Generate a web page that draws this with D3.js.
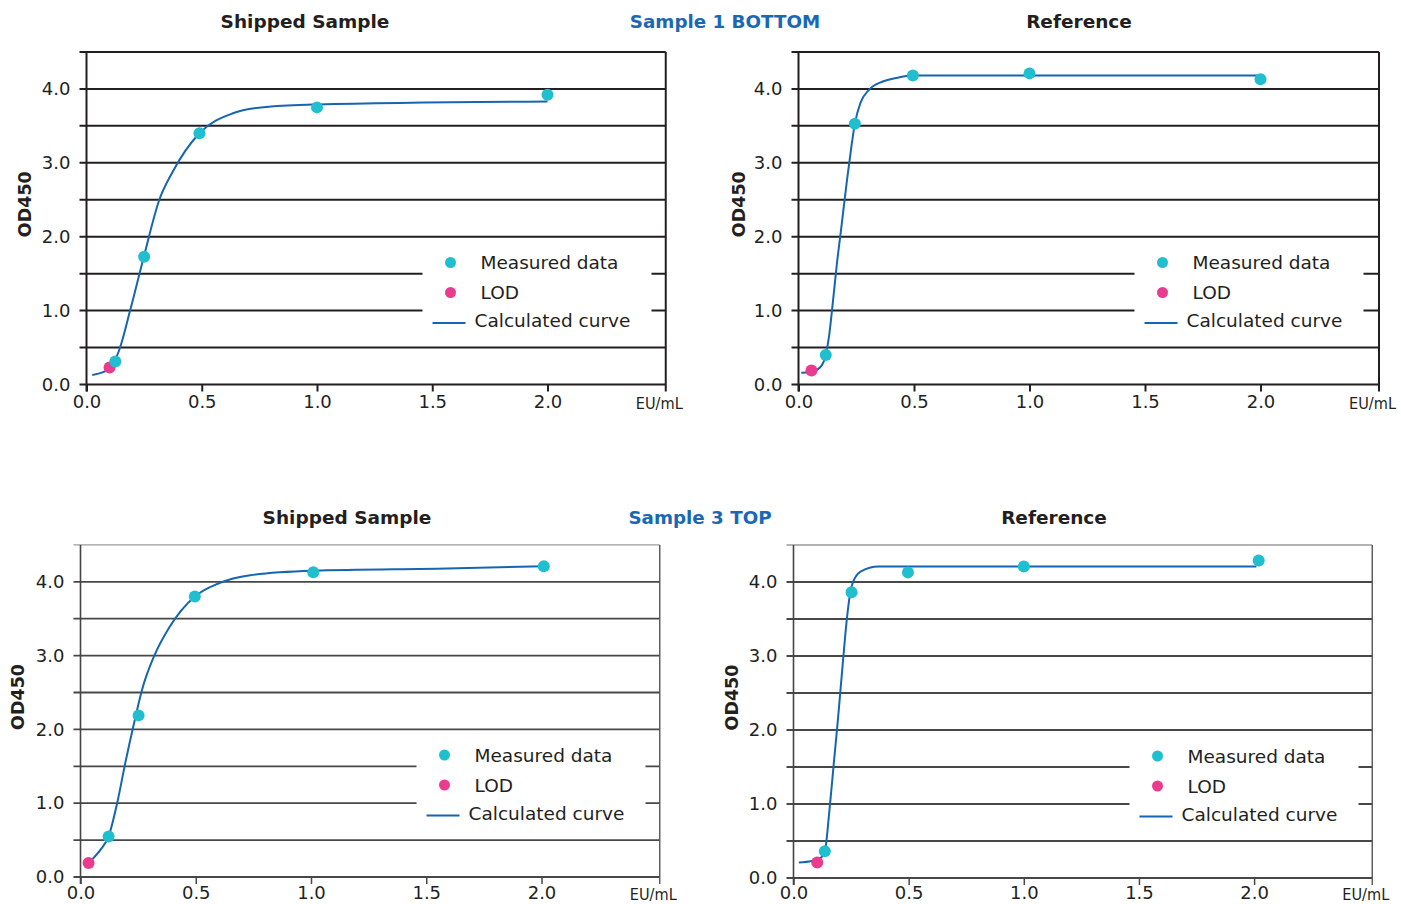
<!DOCTYPE html>
<html>
<head>
<meta charset="utf-8">
<script src="https://cdn.jsdelivr.net/npm/d3@7"></script>
<style>
  html, body { margin: 0; padding: 0; background: #fff; }
  svg { display: block; font-family: "DejaVu Sans", Verdana, sans-serif; }
</style>
</head>
<body>
<svg id="chart" width="1401" height="904"></svg>
<script>
// ---- axis ticks ----
const xTickValues = [0, 0.5, 1.0, 1.5, 2.0];
const xTickLabels = ["0.0", "0.5", "1.0", "1.5", "2.0"];
const xUnitLabel = "EU/mL";
const yTickValues = [0, 1, 2, 3, 4];
const yTickLabels = ["0.0", "1.0", "2.0", "3.0", "4.0"];
const yGridValues = [0, 0.5, 1.0, 1.5, 2.0, 2.5, 3.0, 3.5, 4.0, 4.5];
const yAxisTitle = "OD450";

// ---- row headings ----
const rowHeadings = ["Sample 1 BOTTOM", "Sample 3 TOP"];
const panelTitles = ["Shipped Sample", "Reference"];

// ---- legend ----
const legendLabels = ["Measured data", "LOD", "Calculated curve"];

// ---- Sample 1 BOTTOM, shipped ----
const s1ShippedMeasured = [[0.125, 0.31], [0.25, 1.73], [0.49, 3.40], [1.0, 3.75], [2.0, 3.92]];
const s1ShippedLOD = [[0.10, 0.23]];
const s1ShippedCurve = [[0.025, 0.13], [0.10, 0.21], [0.14, 0.45], [0.19, 1.01], [0.248, 1.72],
  [0.316, 2.50], [0.374, 2.88], [0.49, 3.40], [0.635, 3.67], [0.79, 3.76], [1.0, 3.79], [2.0, 3.83]];

// ---- Sample 1 BOTTOM, reference ----
const s1RefMeasured = [[0.118, 0.40], [0.244, 3.53], [0.495, 4.18], [1.0, 4.21], [2.0, 4.13]];
const s1RefLOD = [[0.056, 0.19]];
const s1RefCurve = [[0.012, 0.16], [0.054, 0.17], [0.093, 0.23], [0.118, 0.40], [0.132, 0.65],
  [0.147, 1.06], [0.165, 1.60], [0.186, 2.14], [0.21, 2.77], [0.229, 3.22], [0.244, 3.53],
  [0.268, 3.81], [0.306, 3.99], [0.365, 4.10], [0.442, 4.16], [0.5, 4.18], [2.0, 4.18]];

// ---- Sample 3 TOP, shipped ----
const s3ShippedMeasured = [[0.122, 0.55], [0.252, 2.19], [0.496, 3.80], [1.01, 4.13], [2.01, 4.21]];
const s3ShippedLOD = [[0.035, 0.19]];
const s3ShippedCurve = [[0.045, 0.22], [0.087, 0.37], [0.122, 0.55], [0.159, 1.0], [0.194, 1.54],
  [0.232, 2.08], [0.271, 2.58], [0.319, 2.99], [0.387, 3.39], [0.496, 3.80], [0.6, 3.98],
  [0.736, 4.09], [1.007, 4.15], [1.59, 4.18], [2.01, 4.21]];

// ---- Sample 3 TOP, reference ----
const s3RefMeasured = [[0.136, 0.36], [0.252, 3.86], [0.497, 4.13], [1.0, 4.21], [2.02, 4.29]];
const s3RefLOD = [[0.103, 0.21]];
const s3RefCurve = [[0.023, 0.21], [0.078, 0.23], [0.117, 0.27], [0.136, 0.36], [0.155, 0.88],
  [0.175, 1.55], [0.194, 2.18], [0.214, 2.90], [0.233, 3.54], [0.252, 3.94], [0.291, 4.14],
  [0.369, 4.21], [2.01, 4.21]];

// ---- styling ----
const C_MEASURED = "#1fbfcf";
const C_LOD = "#ea3c8e";
const C_CURVE = "#1565b0";
const C_TEXT = "#231f20";
const C_HEAD = "#1a68b5";
const FONT = "DejaVu Sans, Verdana, sans-serif";

const svg = d3.select("#chart");

// Each panel: plot origin (x = 0, y = 0) in px and per-unit scale
const panels = [
  { left: 86.5, bottom: 384.5, ux: 230.5, uy: 73.9, measured: s1ShippedMeasured, lod: s1ShippedLOD, curve: s1ShippedCurve,
    title: panelTitles[0], titleX: 305, titleY: 28, yTitleX: 31, style: "dark", pad: 4 },
  { left: 798.5, bottom: 384.5, ux: 231, uy: 73.9, measured: s1RefMeasured, lod: s1RefLOD, curve: s1RefCurve,
    title: panelTitles[1], titleX: 1079, titleY: 28, yTitleX: 745, style: "dark", pad: 4 },
  { left: 80.5, bottom: 877, ux: 230.5, uy: 73.8, measured: s3ShippedMeasured, lod: s3ShippedLOD, curve: s3ShippedCurve,
    title: panelTitles[0], titleX: 347, titleY: 524, yTitleX: 24, style: "gray", pad: 2 },
  { left: 793.5, bottom: 878, ux: 230.3, uy: 74, measured: s3RefMeasured, lod: s3RefLOD, curve: s3RefCurve,
    title: panelTitles[1], titleX: 1054, titleY: 524, yTitleX: 738, style: "gray", pad: 1 }
];

// Row headings
svg.append("text").attr("x", 725).attr("y", 28).attr("text-anchor", "middle")
  .attr("font-weight", "bold").attr("font-size", 18.3).attr("fill", C_HEAD).text(rowHeadings[0]);
svg.append("text").attr("x", 700).attr("y", 524).attr("text-anchor", "middle")
  .attr("font-weight", "bold").attr("font-size", 18.3).attr("fill", C_HEAD).text(rowHeadings[1]);

panels.forEach(p => {
  const x = d3.scaleLinear().domain([0, 2.5]).range([p.left, p.left + 2.5 * p.ux]);
  const y = d3.scaleLinear().domain([0, 4.5]).range([p.bottom, p.bottom - 4.5 * p.uy]);
  const g = svg.append("g");
  const frameR = x(2.5) + 3;
  const dark = p.style === "dark";
  const gridColor = dark ? "#231f20" : "#474747";
  const gridW = dark ? 2 : 1.8;

  // panel title
  g.append("text").attr("x", p.titleX).attr("y", p.titleY).attr("text-anchor", "middle")
    .attr("font-weight", "bold").attr("font-size", 18.5).attr("fill", C_TEXT).text(p.title);

  // horizontal grid (extends a little past the axis like a tick)
  g.selectAll("line.grid").data(yGridValues).join("line")
    .attr("x1", p.left - 7).attr("x2", frameR)
    .attr("y1", d => y(d)).attr("y2", d => y(d))
    .attr("stroke", d => (!dark && d === 4.5) ? "#9a9a9a" : gridColor)
    .attr("stroke-width", d => (!dark && d === 4.5) ? 1.4 : gridW);

  // right frame
  g.append("line").attr("x1", frameR).attr("x2", frameR)
    .attr("y1", y(4.5)).attr("y2", y(0) + 7)
    .attr("stroke", dark ? "#231f20" : "#555").attr("stroke-width", dark ? 2 : 1.4);

  // x axis with downward ticks
  const xAxis = d3.axisBottom(x).tickValues(xTickValues).tickSize(7).tickPadding(p.pad)
    .tickFormat((d, i) => xTickLabels[i]);
  const xg = g.append("g").attr("transform", `translate(0,${y(0)})`).call(xAxis);
  xg.select(".domain").remove();
  xg.selectAll(".tick line").attr("stroke", gridColor).attr("stroke-width", dark ? 2 : 1.5);
  xg.selectAll(".tick text").attr("font-size", 18).attr("fill", C_TEXT).attr("font-family", FONT);

  // unit label at the end of the x axis
  g.append("text").attr("x", x(2.5) + 20).attr("y", y(0) + 7 + p.pad + 13.5)
    .attr("text-anchor", "end").attr("font-size", 16.5).attr("fill", C_TEXT)
    .attr("textLength", 47).attr("lengthAdjust", "spacingAndGlyphs").text(xUnitLabel);

  // y axis labels
  const yAxis = d3.axisLeft(y).tickValues(yTickValues).tickSize(0).tickPadding(16)
    .tickFormat((d, i) => yTickLabels[i]);
  const yg = g.append("g").attr("transform", `translate(${p.left},0)`).call(yAxis);
  yg.select(".domain").remove();
  yg.selectAll(".tick text").attr("font-size", 18).attr("fill", C_TEXT).attr("font-family", FONT);

  // y axis line
  g.append("line").attr("x1", p.left).attr("x2", p.left)
    .attr("y1", y(4.5)).attr("y2", y(0) + 7)
    .attr("stroke", dark ? "#231f20" : "#444").attr("stroke-width", dark ? 2 : 1.6);

  // y axis title
  g.append("text")
    .attr("transform", `translate(${p.yTitleX},${(y(0) + y(4.5)) / 2 - 14}) rotate(-90)`)
    .attr("text-anchor", "middle").attr("font-weight", "bold").attr("font-size", 17.5)
    .attr("fill", C_TEXT).text(yAxisTitle);

  // legend box (masks gridlines)
  const lgX = p.left + 336, lgTop = y(0) - 140;
  g.append("rect").attr("x", lgX).attr("y", lgTop).attr("width", 229).attr("height", 96).attr("fill", "#fff");
  const lx = p.left + 364;
  const rowY = [y(0) - 122, y(0) - 92, y(0) - 64];
  g.append("circle").attr("cx", lx).attr("cy", rowY[0]).attr("r", 5.5).attr("fill", C_MEASURED);
  g.append("circle").attr("cx", lx).attr("cy", rowY[1]).attr("r", 5.5).attr("fill", C_LOD);
  g.append("line").attr("x1", p.left + 346).attr("x2", p.left + 379)
    .attr("y1", y(0) - 61.5).attr("y2", y(0) - 61.5).attr("stroke", C_CURVE).attr("stroke-width", 2);
  g.append("text").attr("x", p.left + 394).attr("y", rowY[0] + 6.5).attr("font-size", 18.5).attr("fill", C_TEXT).text(legendLabels[0]);
  g.append("text").attr("x", p.left + 394).attr("y", rowY[1] + 6.5).attr("font-size", 18.5).attr("fill", C_TEXT).text(legendLabels[1]);
  g.append("text").attr("x", p.left + 388).attr("y", rowY[2] + 6.5).attr("font-size", 18.5).attr("fill", C_TEXT).text(legendLabels[2]);

  // calculated curve
  const line = d3.line().x(d => x(d[0])).y(d => y(d[1])).curve(d3.curveMonotoneX);
  g.append("path").datum(p.curve).attr("d", line).attr("fill", "none")
    .attr("stroke", C_CURVE).attr("stroke-width", 2);

  // LOD and measured points
  g.selectAll("circle.lod").data(p.lod).join("circle").attr("class", "lod")
    .attr("cx", d => x(d[0])).attr("cy", d => y(d[1])).attr("r", 6).attr("fill", C_LOD);
  g.selectAll("circle.meas").data(p.measured).join("circle").attr("class", "meas")
    .attr("cx", d => x(d[0])).attr("cy", d => y(d[1])).attr("r", 6).attr("fill", C_MEASURED);
});
</script>
</body>
</html>
